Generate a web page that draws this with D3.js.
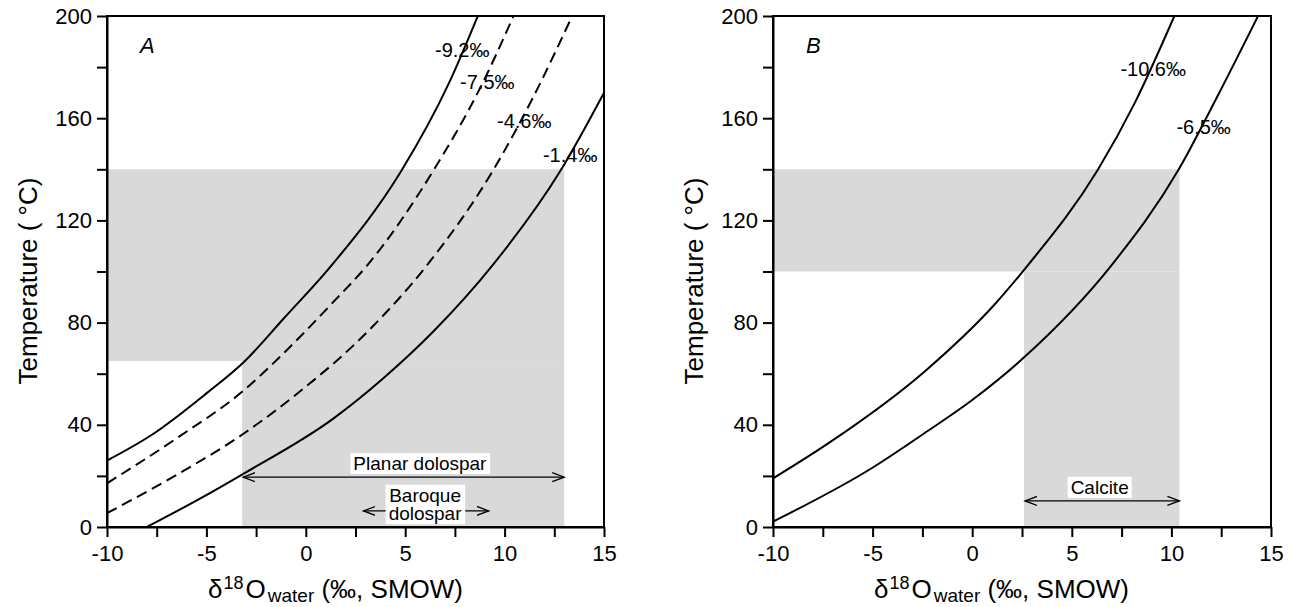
<!DOCTYPE html>
<html>
<head>
<meta charset="utf-8">
<script src="https://d3js.org/d3.v7.min.js"></script>
<style>
  body { margin: 0; background: #fff; }
  text { font-family: "Liberation Sans", Arial, sans-serif; fill: #000; }
</style>
</head>
<body>
<svg id="chart" width="1291" height="607"></svg>
<script>
// ---- data: [δ18O water (‰ SMOW), temperature (°C)] ----
var xTickValues = [-10, -7.5, -5, -2.5, 0, 2.5, 5, 7.5, 10, 12.5, 15];
var yTickValues = [0, 20, 40, 60, 80, 100, 120, 140, 160, 180, 200];

// panel A (dolomite)
var labelsA = ["-9.2‰", "-7.5‰", "-4.6‰", "-1.4‰"];
var dashedA = [false, true, true, false];
var curveA1 = [[-10, 26], [-7.8, 35.8], [-5, 52.3], [-3.1, 64.7], [-1.1, 81.7], [1.2, 101.5], [4.8, 139.3], [7.2, 173.7], [8.65, 200]];
var curveA2 = [[-10, 17.1], [-6.5, 34.7], [-3.1, 53.6], [-1, 68.9], [1.4, 88.2], [3.1, 102.5], [6.4, 139.3], [8.8, 172.3], [10.45, 200]];
var curveA3 = [[-10, 5.4], [-6.5, 20.4], [-3.1, 36.7], [-0.3, 53], [3.1, 76.4], [6.1, 102.5], [9.4, 139.3], [11.45, 168.4], [13.4, 200]];
var curveA4 = [[-8, 0], [-5.3, 11.2], [-3.1, 21], [1.4, 42.5], [3.9, 58.2], [6.4, 76.4], [9.4, 102.5], [12.8, 139.3], [15, 170]];
// shaded field [x0, x1, t0, t1]
var shadeA = [[-10, 13, 65, 140], [-3.2, 13, 0, 65]];
var planarRange = [-3.15, 13];
var baroqueRange = [2.9, 9.2];

// panel B (calcite)
var labelsB = ["-10.6‰", "-6.5‰"];
var dashedB = [false, false];
var curveB1 = [[-10, 19], [-7.1, 33.4], [-2.4, 60.8], [1.1, 86.9], [2.8, 102.5], [6.3, 139.7], [8.15, 165.8], [10.15, 200]];
var curveB2 = [[-10, 2.1], [-5.05, 23], [-2.4, 36.7], [0, 49.7], [2.65, 66.7], [7, 102.5], [10.35, 139.7], [12.3, 168.4], [14.35, 200]];
var shadeB = [[-10, 10.4, 100, 140], [2.6, 10.4, 0, 100]];
var calciteRange = [2.65, 10.4];

var svg = d3.select("#chart");

// open chevron arrow heads
var defs = svg.append("defs");
defs.append("marker").attr("id", "arr").attr("viewBox", "-12 -6 14 12")
  .attr("refX", 0).attr("refY", 0).attr("markerWidth", 14).attr("markerHeight", 12)
  .attr("markerUnits", "userSpaceOnUse").attr("orient", "auto-start-reverse")
  .append("path").attr("d", "M-12,-4.5L0,0L-12,4.5")
  .attr("fill", "none").attr("stroke", "#000").attr("stroke-width", 1.3);

function boxedText(g, cx, lines, baseY, lineH) {
  var t = g.append("text").attr("text-anchor", "middle").attr("font-size", 19);
  lines.forEach(function (s, i) {
    t.append("tspan").attr("x", cx).attr("y", baseY + i * lineH).text(s);
  });
  var b = t.node().getBBox();
  g.insert("rect", function () { return t.node(); })
    .attr("x", b.x - 3).attr("y", b.y).attr("width", b.width + 6).attr("height", b.height)
    .attr("fill", "#fff");
}

function drawPanel(cfg) {
  var x = d3.scaleLinear().domain([-10, 15]).range([cfg.left, cfg.right]);
  var y = d3.scaleLinear().domain([0, 200]).range([527, 16]);
  var g = svg.append("g");

  g.selectAll("rect.shade").data(cfg.shade).enter().append("rect")
    .attr("class", "shade")
    .attr("x", d => x(d[0])).attr("width", d => x(d[1]) - x(d[0]))
    .attr("y", d => y(d[3])).attr("height", d => y(d[2]) - y(d[3]))
    .attr("fill", "#d9d9d9");

  var line = d3.line().x(d => x(d[0])).y(d => y(d[1])).curve(d3.curveMonotoneX);
  g.selectAll("path.curve").data(cfg.curves).enter().append("path")
    .attr("class", "curve")
    .attr("d", d => line(d))
    .attr("fill", "none").attr("stroke", "#000").attr("stroke-width", 2)
    .attr("stroke-dasharray", (d, i) => cfg.dashed[i] ? "11,6" : null);

  g.selectAll("text.clab").data(cfg.labels).enter().append("text")
    .attr("class", "clab")
    .attr("x", (d, i) => x(cfg.labelPos[i][0])).attr("y", (d, i) => y(cfg.labelPos[i][1]))
    .attr("font-size", 20).text(d => d);

  // range arrows with boxed captions
  cfg.arrows.forEach(function (a) {
    g.append("line")
      .attr("x1", x(a.range[0])).attr("x2", x(a.range[1]))
      .attr("y1", y(a.t)).attr("y2", y(a.t))
      .attr("stroke", "#000").attr("stroke-width", 1.2)
      .attr("marker-start", "url(#arr)").attr("marker-end", "url(#arr)");
    boxedText(g, x(a.cx), a.text, y(a.tText), 18.5);
  });

  // axes
  var xAxis = d3.axisBottom(x).tickValues(xTickValues).tickSize(10).tickSizeOuter(0).tickPadding(8)
    .tickFormat(d => d % 5 === 0 ? d3.format("d")(d) : "");
  var yAxis = d3.axisLeft(y).tickValues(yTickValues).tickSize(10).tickSizeOuter(0).tickPadding(5)
    .tickFormat(d => d % 40 === 0 ? d : "");
  var gx = g.append("g").attr("transform", "translate(0,527)").call(xAxis);
  var gy = g.append("g").attr("transform", "translate(" + cfg.left + ",0)").call(yAxis);
  [gx, gy].forEach(function (a) {
    a.selectAll("path, line").attr("stroke", "#000").attr("stroke-width", 2);
    a.selectAll("text").attr("font-size", 22).attr("font-family", "Liberation Sans, Arial, sans-serif").attr("fill", "#000");
  });
  gx.selectAll("text").text(function () { return this.textContent.replace("−", "-"); });

  // frame
  g.append("rect").attr("x", cfg.left).attr("y", 16)
    .attr("width", cfg.right - cfg.left).attr("height", 527 - 16)
    .attr("fill", "none").attr("stroke", "#000").attr("stroke-width", 2);

  // panel letter
  g.append("text").attr("x", cfg.left + 33).attr("y", 53)
    .attr("font-family", "Liberation Serif, Times New Roman, serif").attr("font-style", "italic")
    .attr("font-size", 22).text(cfg.letter);

  // axis titles
  g.append("text").attr("transform", "translate(" + (cfg.left - 70) + ",281) rotate(-90)")
    .attr("text-anchor", "middle").attr("font-size", 26).text("Temperature ( °C)");

  var xt = g.append("text").attr("x", cfg.left + 101).attr("y", 598).attr("font-size", 26);
  xt.append("tspan").text("δ");
  xt.append("tspan").attr("font-size", 18).attr("dy", -9).attr("dx", 1).text("18");
  xt.append("tspan").attr("dy", 9).attr("dx", 2).text("O");
  xt.append("tspan").attr("font-size", 19).attr("dy", 4).attr("dx", 2).text("water");
  xt.append("tspan").attr("dy", -4).text(" (‰, SMOW)");
}

drawPanel({
  left: 107, right: 604, letter: "A",
  shade: shadeA,
  curves: [curveA1, curveA2, curveA3, curveA4],
  dashed: dashedA,
  labels: labelsA,
  labelPos: [[6.5, 184], [7.76, 171.4], [9.62, 156], [11.93, 142.9]],
  arrows: [
    { range: planarRange, t: 19.5, cx: 5.74, tText: 22.3, text: ["Planar dolospar"] },
    { range: baroqueRange, t: 6.3, cx: 6.0, tText: 9.9, text: ["Baroque", "dolospar"] }
  ]
});

drawPanel({
  left: 773, right: 1271, letter: "B",
  shade: shadeB,
  curves: [curveB1, curveB2],
  dashed: dashedB,
  labels: labelsB,
  labelPos: [[7.44, 176.5], [10.25, 153.8]],
  arrows: [
    { range: calciteRange, t: 10.2, cx: 6.4, tText: 13.0, text: ["Calcite"] }
  ]
});
</script>
</body>
</html>
